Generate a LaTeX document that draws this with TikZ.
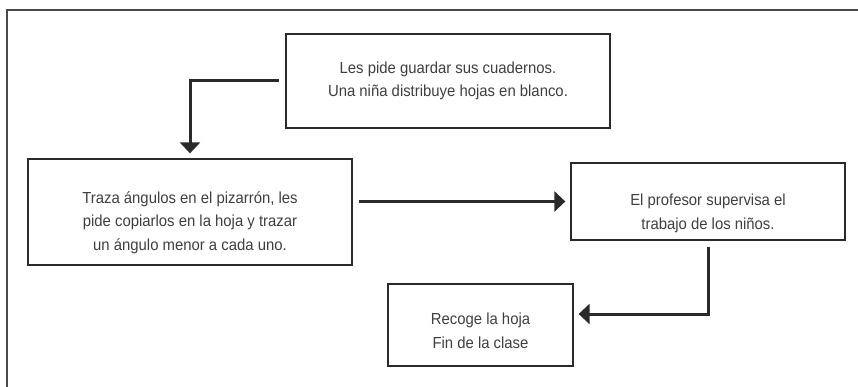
\documentclass[tikz,border=0pt]{standalone}
\usepackage{fontspec}
\setmainfont[FakeStretch=0.93]{Liberation Sans}
\usepackage{xcolor}
\usepackage{tikz}
\usetikzlibrary{arrows.meta,positioning}
\definecolor{inkgray}{HTML}{2B2A2B}
\definecolor{framegray}{HTML}{4A4A4A}

\begin{document}
\begin{tikzpicture}[x=1pt, y=-1pt, >={Triangle[width=20pt,length=11pt]},
    every node/.style={font=\fontsize{16}{23.5}\selectfont, text=inkgray!90},
    stepbox/.style={draw=inkgray, line width=1.3pt, align=center, inner sep=0pt},
    flow/.style={->, line width=3pt, inkgray, shorten <=6pt, shorten >=5pt}]
  \useasboundingbox (0,0) rectangle (858,387);
  \draw[framegray, line width=2pt] (7,387) -- (7,10) -- (858,10);

  \node[stepbox, minimum width=324pt, minimum height=94pt] (guardar) at (448,81)
    {Les pide guardar sus cuadernos.\\Una niña distribuye hojas en blanco.};
  \node[stepbox, minimum width=324pt, minimum height=106pt, text height=80pt] (traza) at (190,212)
    {Traza ángulos en el pizarrón, les\\pide copiarlos en la hoja y trazar\\un ángulo menor a cada uno.};
  \node[stepbox, minimum width=274pt, minimum height=77pt, text height=59pt] (supervisa) at (708,201.5)
    {El profesor supervisa el\\trabajo de los niños.};
  \node[stepbox, minimum width=185pt, minimum height=82pt, text height=47pt] (recoge) at (480.5,325)
    {Recoge la hoja\\Fin de la clase};

  \draw[flow] (guardar.west) -| (traza.north);
  \draw[flow] (traza.east |- supervisa.west) -- (supervisa.west);
  \draw[flow] (supervisa.south) |- ([yshift=11pt]recoge.east);
\end{tikzpicture}
\end{document}
